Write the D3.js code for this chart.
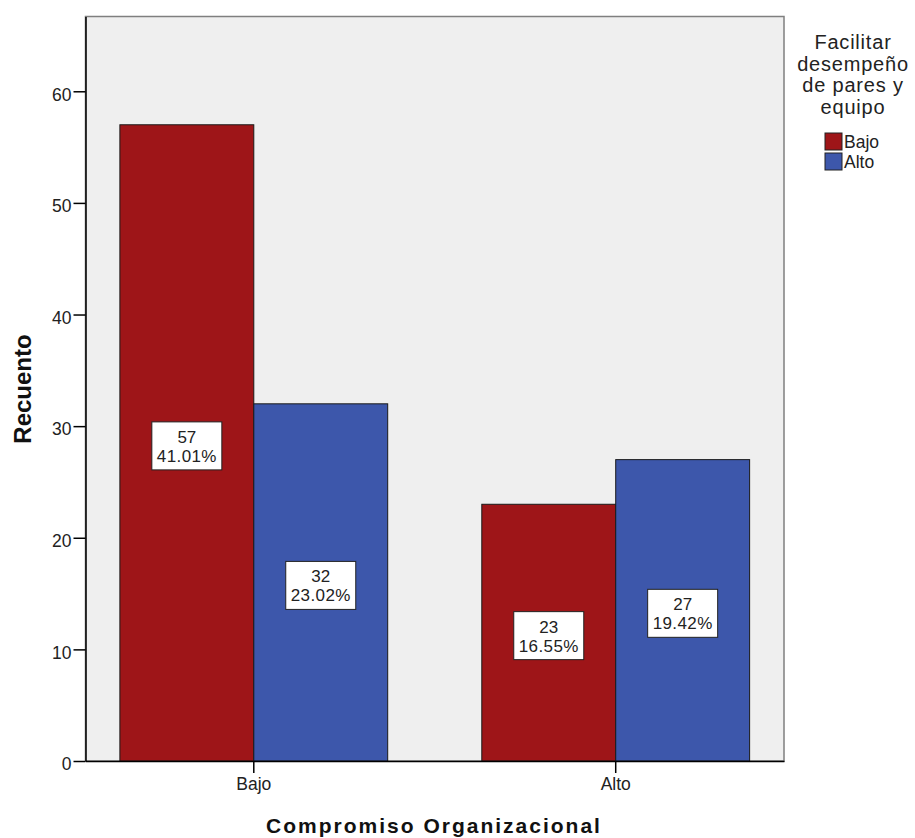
<!DOCTYPE html>
<html>
<head>
<meta charset="utf-8">
<script src="https://cdn.jsdelivr.net/npm/d3@7"></script>
<style>
  body { margin: 0; background: #fff; }
  svg { display: block; font-family: "Liberation Sans", Arial, sans-serif; }
</style>
</head>
<body>
<svg id="chart" width="915" height="838"></svg>
<script>
// Counts of "Facilitar desempeño de pares y equipo" by "Compromiso Organizacional"
const categories = ["Bajo", "Alto"];
const seriesNames = ["Bajo", "Alto"];
const countsBajo = [57, 23];        // series "Bajo"
const countsAlto = [32, 27];        // series "Alto"
const pctBajo = ["41.01%", "16.55%"];
const pctAlto = ["23.02%", "19.42%"];
const yTicks = [0, 10, 20, 30, 40, 50, 60];
const colors = ["#9e1518", "#3d57ab"];

const rows = [];
categories.forEach((c, i) => {
  rows.push({ cat: c, series: seriesNames[0], value: countsBajo[i], pct: pctBajo[i] });
  rows.push({ cat: c, series: seriesNames[1], value: countsAlto[i], pct: pctAlto[i] });
});

const svg = d3.select("#chart");
const m = { left: 85.5, right: 784, top: 16.5, bottom: 761 };

const x0 = d3.scaleBand().domain(categories).range([m.left, m.right])
  .paddingInner(0.26).paddingOuter(0.095);
const x1 = d3.scaleBand().domain(seriesNames).range([0, x0.bandwidth()]);
const y = d3.scaleLinear().domain([0, 66.7]).range([m.bottom, m.top]);
const color = d3.scaleOrdinal().domain(seriesNames).range(colors);

// plot background and frame
svg.append("rect")
  .attr("x", m.left).attr("y", m.top)
  .attr("width", m.right - m.left).attr("height", m.bottom - m.top)
  .attr("fill", "#efefef").attr("stroke", "#7f7f7f").attr("stroke-width", 1.5);

// bars
svg.append("g").selectAll("rect").data(rows).join("rect")
  .attr("x", d => x0(d.cat) + x1(d.series))
  .attr("y", d => y(d.value))
  .attr("width", x1.bandwidth())
  .attr("height", d => y(0) - y(d.value))
  .attr("fill", d => color(d.series))
  .attr("stroke", "#1a1a1a").attr("stroke-width", 1);

// y axis
const yAxis = svg.append("g").attr("transform", `translate(${m.left},0)`)
  .call(d3.axisLeft(y).tickValues(yTicks).tickSize(12).tickSizeOuter(0).tickPadding(2)
    .tickFormat(d3.format("d")));
yAxis.select(".domain").attr("stroke", "#000").attr("stroke-width", 1.5);
yAxis.selectAll(".tick line").attr("stroke", "#000").attr("stroke-width", 1.5);
yAxis.selectAll("text").attr("font-size", 17.5).attr("fill", "#222").attr("dy", "0.5em")
  .attr("font-family", "Liberation Sans, Arial, sans-serif");

// x axis
const xAxis = svg.append("g").attr("transform", `translate(0,${m.bottom})`)
  .call(d3.axisBottom(x0).tickSize(12).tickSizeOuter(0).tickPadding(5));
xAxis.select(".domain").attr("stroke", "#000").attr("stroke-width", 1.5);
xAxis.selectAll(".tick line").attr("stroke", "#000").attr("stroke-width", 1.5);
xAxis.selectAll("text").attr("font-size", 17.5).attr("fill", "#222")
  .attr("font-family", "Liberation Sans, Arial, sans-serif");

// value labels in the middle of each bar
const lab = svg.append("g").selectAll("g").data(rows).join("g")
  .attr("transform", d => `translate(${x0(d.cat) + x1(d.series) + x1.bandwidth() / 2},${y(d.value / 2) + 3})`);
lab.append("rect")
  .attr("x", -35).attr("y", -24).attr("width", 70).attr("height", 48)
  .attr("fill", "#fff").attr("stroke", "#222").attr("stroke-width", 1);
lab.append("text").attr("text-anchor", "middle").attr("y", -3)
  .attr("font-size", 17).attr("fill", "#222").text(d => d.value);
lab.append("text").attr("text-anchor", "middle").attr("y", 16)
  .attr("font-size", 17).attr("letter-spacing", 0.4).attr("fill", "#222").text(d => d.pct);

// axis titles
svg.append("text")
  .attr("transform", `translate(31,${389}) rotate(-90)`)
  .attr("text-anchor", "middle").attr("font-size", 24).attr("font-weight", "bold")
  .attr("fill", "#111").text("Recuento");
svg.append("text")
  .attr("x", 434).attr("y", 833)
  .attr("text-anchor", "middle").attr("font-size", 21).attr("font-weight", "bold")
  .attr("letter-spacing", 2).attr("fill", "#111").text("Compromiso Organizacional");

// legend
const legendTitle = ["Facilitar", "desempeño", "de pares y", "equipo"];
svg.append("g").selectAll("text").data(legendTitle).join("text")
  .attr("x", 853).attr("y", (d, i) => 49 + i * 21.5)
  .attr("text-anchor", "middle").attr("font-size", 20).attr("letter-spacing", 0.8)
  .attr("fill", "#222").text(d => d);
const leg = svg.append("g").selectAll("g").data(seriesNames).join("g")
  .attr("transform", (d, i) => `translate(825,${133 + i * 20})`);
leg.append("rect").attr("width", 17).attr("height", 17)
  .attr("fill", d => color(d)).attr("stroke", "#222").attr("stroke-width", 1);
leg.append("text").attr("x", 19).attr("y", 15).attr("font-size", 17.5)
  .attr("fill", "#222").text(d => d);
</script>
</body>
</html>
